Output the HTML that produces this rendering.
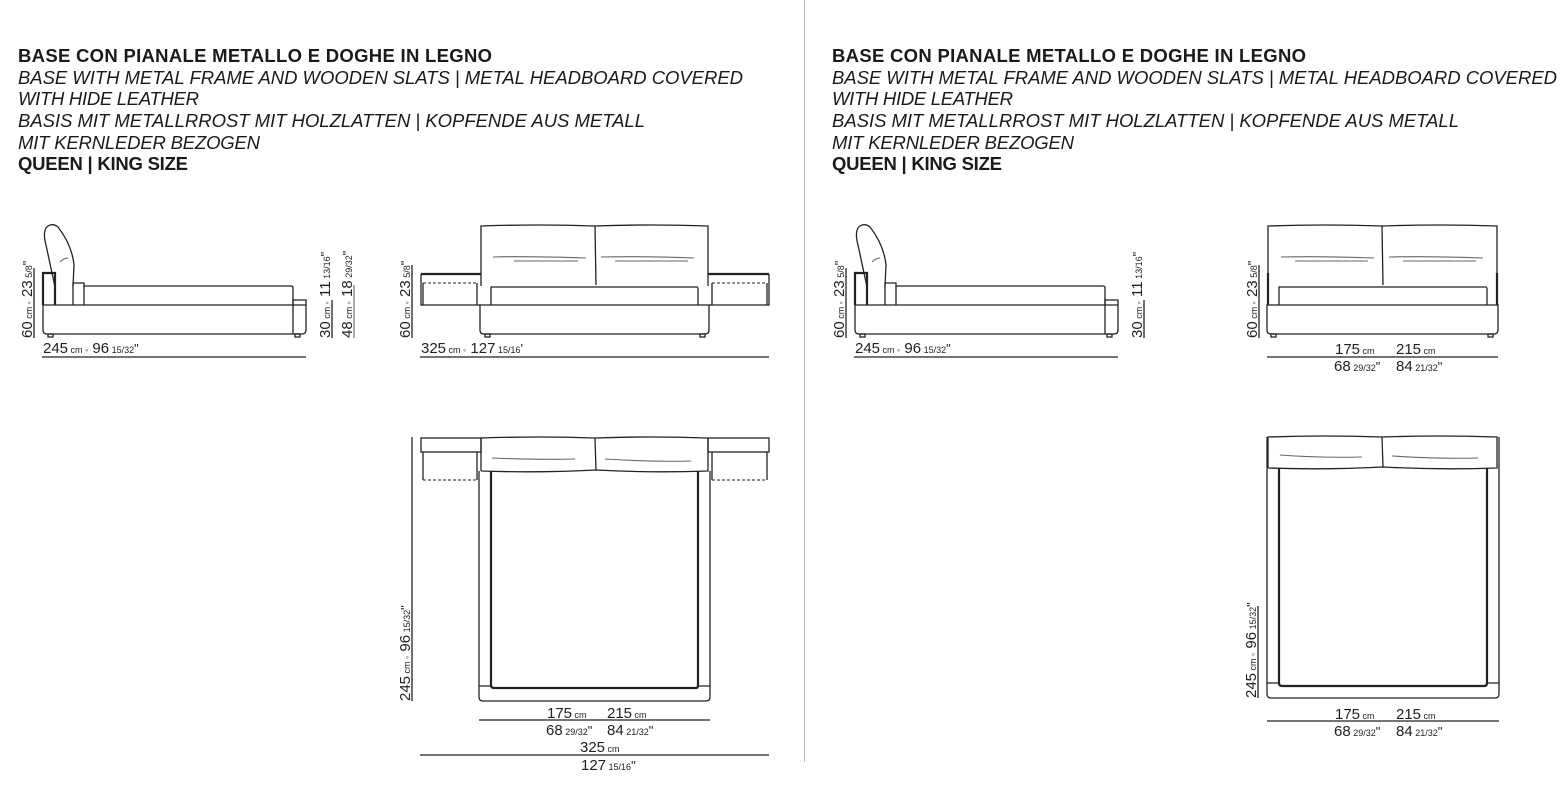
<!DOCTYPE html>
<html><head><meta charset="utf-8"><style>
html,body{margin:0;padding:0;background:#fff;}
svg{display:block;}
.h{font-family:"Liberation Sans",sans-serif;font-size:18.5px;fill:#1a1a1a;}
.d{font-family:"Liberation Sans",sans-serif;fill:#222;}
.l{fill:none;stroke:#222;stroke-width:1.3;}
.t{fill:none;stroke:#222;stroke-width:2.2;}
.g{fill:none;stroke:#666;stroke-width:1.1;}
</style></head><body>
<svg width="1568" height="786" viewBox="0 0 1568 786" xmlns="http://www.w3.org/2000/svg">
<line x1="804.5" y1="0" x2="804.5" y2="762" stroke="#bbb" stroke-width="1"/>

<!-- headings -->
<g class="h">
<text x="18" y="62" font-weight="bold" textLength="474">BASE CON PIANALE METALLO E DOGHE IN LEGNO</text>
<text x="18" y="84" font-style="italic" textLength="725">BASE WITH METAL FRAME AND WOODEN SLATS | METAL HEADBOARD COVERED</text>
<text x="18" y="105" font-style="italic" textLength="181">WITH HIDE LEATHER</text>
<text x="18" y="127" font-style="italic" textLength="627">BASIS MIT METALLRROST MIT HOLZLATTEN | KOPFENDE AUS METALL</text>
<text x="18" y="149" font-style="italic" textLength="242">MIT KERNLEDER BEZOGEN</text>
<text x="18" y="170" font-weight="bold" textLength="170">QUEEN | KING SIZE</text>
<text x="832" y="62" font-weight="bold" textLength="474">BASE CON PIANALE METALLO E DOGHE IN LEGNO</text>
<text x="832" y="84" font-style="italic" textLength="725">BASE WITH METAL FRAME AND WOODEN SLATS | METAL HEADBOARD COVERED</text>
<text x="832" y="105" font-style="italic" textLength="181">WITH HIDE LEATHER</text>
<text x="832" y="127" font-style="italic" textLength="627">BASIS MIT METALLRROST MIT HOLZLATTEN | KOPFENDE AUS METALL</text>
<text x="832" y="149" font-style="italic" textLength="242">MIT KERNLEDER BEZOGEN</text>
<text x="832" y="170" font-weight="bold" textLength="170">QUEEN | KING SIZE</text>
</g>

<!-- side view (left and right) -->
<g id="side">
<path class="l" d="M43,305 L43,330 Q43,334 47,334 L302,334 Q306,334 306,330 L306,305 Z"/>
<line class="l" x1="293" y1="305" x2="293" y2="334"/>
<path class="l" d="M293,305 L293,300 L306,300 L306,305"/>
<path class="l" d="M84,286 L291,286 Q293,286 293,288 L293,305"/>
<path class="t" d="M43,305 L43,273 L55,273 L55,305"/>
<path class="l" d="M73,305 L73,283 L84,283 L84,305"/>
<path class="l" d="M55,287 L46,245 Q42,230 48,226 Q53,223 58,227 Q72,245 74,265 L73,286"/>
<path class="g" d="M60,262 Q64,258 68,258"/>
<rect x="48" y="334" width="5" height="3" class="l"/>
<rect x="295" y="334" width="5" height="3" class="l"/>
<line class="l" x1="42" y1="357" x2="306" y2="357"/>
<text class="d" x="43" y="353"><tspan font-size="15">245</tspan><tspan font-size="9"> cm </tspan><tspan font-size="9">◦</tspan><tspan font-size="15"> 96</tspan><tspan font-size="9"> 15/32</tspan><tspan font-size="13">"</tspan></text>
<line class="l" x1="34" y1="268" x2="34" y2="338"/>
<text class="d" transform="translate(32,338) rotate(-90)"><tspan font-size="15">60</tspan><tspan font-size="9"> cm </tspan><tspan font-size="9">◦</tspan><tspan font-size="15"> 23</tspan><tspan font-size="9"> 5/8</tspan><tspan font-size="13">"</tspan></text>
<line class="l" x1="332" y1="300" x2="332" y2="338"/>
<text class="d" transform="translate(330,338) rotate(-90)"><tspan font-size="15">30</tspan><tspan font-size="9"> cm </tspan><tspan font-size="9">◦</tspan><tspan font-size="15"> 11</tspan><tspan font-size="9"> 13/16</tspan><tspan font-size="13">"</tspan></text>
</g>
<line class="g" x1="354" y1="285" x2="354" y2="338"/>
<text class="d" transform="translate(352,338) rotate(-90)"><tspan font-size="15">48</tspan><tspan font-size="9"> cm </tspan><tspan font-size="9">◦</tspan><tspan font-size="15"> 18</tspan><tspan font-size="9"> 29/32</tspan><tspan font-size="13">"</tspan></text>
<use href="#side" transform="translate(812,0)"/>

<!-- front view left -->
<g>
<path class="l" d="M481,286 L481,226 Q540,224 595,226 Q650,224 708,226 L708,286"/>
<line class="l" x1="595" y1="226" x2="596" y2="285"/>
<path class="g" d="M493,257 Q530,256 586,258 M514,261 L578,261 M601,257 Q640,256 694,258 M615,261 L688,261"/>
<line class="t" x1="421" y1="274" x2="481" y2="274"/>
<line class="t" x1="708" y1="274" x2="769" y2="274"/>
<path class="l" d="M421,274 L421,305 L480,305 M769,274 L769,305 L709,305"/>
<path class="l" d="M423,305 L423,283 M477,283 L477,305 M712,305 L712,283 M767,283 L767,305"/>
<line x1="423" y1="283" x2="477" y2="283" stroke="#222" stroke-width="1" stroke-dasharray="3,2"/>
<line x1="712" y1="283" x2="767" y2="283" stroke="#222" stroke-width="1" stroke-dasharray="3,2"/>
<path class="l" d="M480,305 L480,330 Q480,334 484,334 L705,334 Q709,334 709,330 L709,305 Z"/>
<path class="l" d="M491,305 L491,287 L697,287 Q698,287 698,290 L698,305"/>
<rect x="485" y="334" width="5" height="3" class="l"/>
<rect x="700" y="334" width="5" height="3" class="l"/>
<line class="l" x1="420" y1="357" x2="769" y2="357"/>
<text class="d" x="421" y="353"><tspan font-size="15">325</tspan><tspan font-size="9"> cm </tspan><tspan font-size="9">◦</tspan><tspan font-size="15"> 127</tspan><tspan font-size="9"> 15/16</tspan><tspan font-size="13">'</tspan></text>
<line class="l" x1="412" y1="265" x2="412" y2="338"/>
<text class="d" transform="translate(410,338) rotate(-90)"><tspan font-size="15">60</tspan><tspan font-size="9"> cm </tspan><tspan font-size="9">◦</tspan><tspan font-size="15"> 23</tspan><tspan font-size="9"> 5/8</tspan><tspan font-size="13">"</tspan></text>
</g>

<!-- plan view left -->
<g>
<rect class="l" x="421" y="438" width="60" height="14"/>
<rect class="l" x="708" y="438" width="61" height="14"/>
<path class="l" d="M423,452 L423,480 M477,452 L477,480 M712,452 L712,480 M767,452 L767,480"/>
<line x1="423" y1="480" x2="477" y2="480" stroke="#222" stroke-width="1" stroke-dasharray="3,2"/>
<line x1="712" y1="480" x2="767" y2="480" stroke="#222" stroke-width="1" stroke-dasharray="3,2"/>
<path class="l" d="M481,471 L481,438 Q540,436 595,438 Q650,436 708,438 L708,471 Q650,473 596,470 Q540,473 481,471"/>
<line class="l" x1="595" y1="438" x2="596" y2="470"/>
<path class="g" d="M492,458 Q540,460 575,459 M605,459 Q650,462 691,461"/>
<path class="l" d="M479,471 L479,697 Q479,701 483,701 L706,701 Q710,701 710,697 L710,471"/>
<path class="t" d="M491,471 L491,685 Q491,688 494,688 L696,688 Q698,688 698,685 L698,471"/>
<path class="l" d="M479,686 L491,686 M698,686 L710,686"/>
<line class="l" x1="412" y1="437" x2="412" y2="701"/>
<text class="d" transform="translate(410,701) rotate(-90)"><tspan font-size="15">245</tspan><tspan font-size="9"> cm </tspan><tspan font-size="9">◦</tspan><tspan font-size="15"> 96</tspan><tspan font-size="9"> 15/32</tspan><tspan font-size="13">"</tspan></text>
<line class="l" x1="479" y1="720" x2="710" y2="720"/>
<text class="d" x="547" y="718"><tspan font-size="15">175</tspan><tspan font-size="9"> cm</tspan></text>
<text class="d" x="607" y="718"><tspan font-size="15">215</tspan><tspan font-size="9"> cm</tspan></text>
<text class="d" x="546" y="735"><tspan font-size="15">68</tspan><tspan font-size="9"> 29/32</tspan><tspan font-size="13">"</tspan></text>
<text class="d" x="607" y="735"><tspan font-size="15">84</tspan><tspan font-size="9"> 21/32</tspan><tspan font-size="13">"</tspan></text>
<text class="d" x="580" y="752"><tspan font-size="15">325</tspan><tspan font-size="9"> cm</tspan></text>
<line class="l" x1="420" y1="755" x2="769" y2="755"/>
<text class="d" x="581" y="770"><tspan font-size="15">127</tspan><tspan font-size="9"> 15/16</tspan><tspan font-size="13">"</tspan></text>
</g>

<!-- front view right -->
<g>
<path class="l" d="M1268,286 L1268,226 Q1325,224 1382,226 Q1440,224 1497,226 L1497,286"/>
<line class="l" x1="1382" y1="226" x2="1383" y2="285"/>
<path class="g" d="M1281,257 Q1320,256 1374,258 M1295,261 L1368,261 M1389,257 Q1430,256 1483,258 M1403,261 L1476,261"/>
<path class="t" d="M1268,273 L1268,305 M1497,273 L1497,305"/>
<path class="l" d="M1267,305 L1267,330 Q1267,334 1271,334 L1494,334 Q1498,334 1498,330 L1498,305 Z"/>
<path class="l" d="M1279,305 L1279,287 L1486,287 Q1487,287 1487,290 L1487,305"/>
<rect x="1271" y="334" width="5" height="3" class="l"/>
<rect x="1488" y="334" width="5" height="3" class="l"/>
<line class="l" x1="1267" y1="357" x2="1498" y2="357"/>
<text class="d" x="1335" y="354"><tspan font-size="15">175</tspan><tspan font-size="9"> cm</tspan></text>
<text class="d" x="1396" y="354"><tspan font-size="15">215</tspan><tspan font-size="9"> cm</tspan></text>
<text class="d" x="1334" y="371"><tspan font-size="15">68</tspan><tspan font-size="9"> 29/32</tspan><tspan font-size="13">"</tspan></text>
<text class="d" x="1396" y="371"><tspan font-size="15">84</tspan><tspan font-size="9"> 21/32</tspan><tspan font-size="13">"</tspan></text>
<line class="l" x1="1259" y1="265" x2="1259" y2="338"/>
<text class="d" transform="translate(1257,338) rotate(-90)"><tspan font-size="15">60</tspan><tspan font-size="9"> cm </tspan><tspan font-size="9">◦</tspan><tspan font-size="15"> 23</tspan><tspan font-size="9"> 5/8</tspan><tspan font-size="13">"</tspan></text>
</g>

<!-- plan view right -->
<g>
<path class="l" d="M1268,468 L1268,437 Q1325,435 1382,437 Q1440,435 1497,437 L1497,468 Q1440,470 1383,467 Q1325,470 1268,468"/>
<line class="l" x1="1382" y1="437" x2="1383" y2="467"/>
<path class="g" d="M1280,455 Q1320,458 1362,457 M1392,456 Q1440,459 1478,458"/>
<path class="l" d="M1267,437 L1267,694 Q1267,698 1271,698 L1495,698 Q1499,698 1499,694 L1499,437"/>
<path class="t" d="M1279,468 L1279,683 Q1279,686 1282,686 L1484,686 Q1487,686 1487,683 L1487,468"/>
<path class="l" d="M1267,683 L1279,683 M1487,683 L1499,683"/>
<line class="l" x1="1258" y1="606" x2="1258" y2="698"/>
<text class="d" transform="translate(1256,698) rotate(-90)"><tspan font-size="15">245</tspan><tspan font-size="9"> cm </tspan><tspan font-size="9">◦</tspan><tspan font-size="15"> 96</tspan><tspan font-size="9"> 15/32</tspan><tspan font-size="13">"</tspan></text>
<line class="l" x1="1267" y1="721" x2="1499" y2="721"/>
<text class="d" x="1335" y="719"><tspan font-size="15">175</tspan><tspan font-size="9"> cm</tspan></text>
<text class="d" x="1396" y="719"><tspan font-size="15">215</tspan><tspan font-size="9"> cm</tspan></text>
<text class="d" x="1334" y="736"><tspan font-size="15">68</tspan><tspan font-size="9"> 29/32</tspan><tspan font-size="13">"</tspan></text>
<text class="d" x="1396" y="736"><tspan font-size="15">84</tspan><tspan font-size="9"> 21/32</tspan><tspan font-size="13">"</tspan></text>
</g>
</svg>
</body></html>
